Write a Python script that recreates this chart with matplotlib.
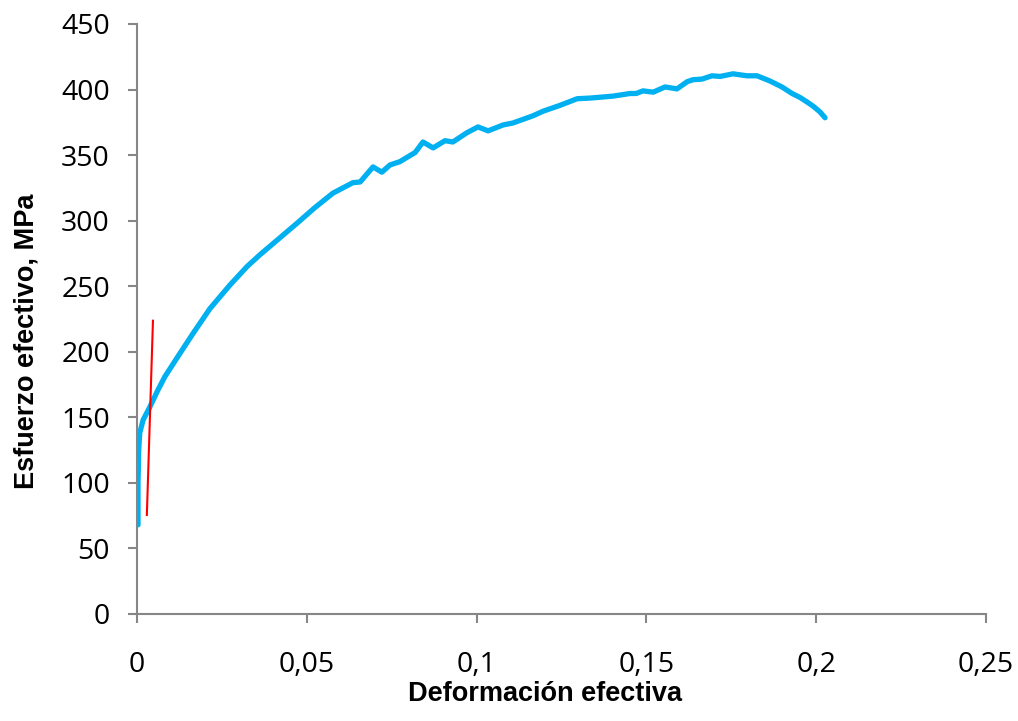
import matplotlib
matplotlib.use("Agg")
import matplotlib.pyplot as plt

# Data
strain = [0.0003, 0.0003, 0.0005, 0.0008, 0.0018, 0.0038, 0.0060, 0.0082, 0.0127,
          0.0165, 0.0215, 0.0274, 0.0324, 0.0362, 0.0412, 0.0471, 0.0524,
          0.0577, 0.0636, 0.0657, 0.0695,
          0.0721, 0.0745, 0.0774, 0.0819, 0.0842, 0.0872, 0.0907, 0.0930, 0.0971,
          0.1004, 0.1034, 0.1078, 0.1107, 0.1166, 0.1196, 0.1246, 0.1296, 0.1334,
          0.1402, 0.1452, 0.1470, 0.1490, 0.1520, 0.1555, 0.1590, 0.1620, 0.1637,
          0.1664, 0.1693, 0.1717, 0.1755, 0.1796, 0.1826, 0.1864, 0.1899, 0.1929,
          0.1952, 0.1976, 0.1990, 0.2011, 0.2026]
stress = [68, 100, 125, 138, 148, 158, 170, 181, 199,
          214, 233, 251, 265, 274, 285, 298, 310,
          321, 329, 329.5, 341,
          337, 342.5, 345, 352, 360, 355.5, 361, 360, 367,
          371.5, 368.5, 373, 374.5, 380, 383.5, 388, 393, 393.5,
          395, 397, 397, 399, 398, 402, 400.5, 406, 407.5,
          408, 410.5, 410, 412, 410.5, 410.5, 406.5, 402, 397,
          394, 390, 387.5, 383, 378.5]

elastic_strain = [0.0029, 0.0047]
elastic_stress = [75.5, 223.7]

x_ticks = [0, 0.05, 0.1, 0.15, 0.2, 0.25]
x_tick_labels = ["0", "0,05", "0,1", "0,15", "0,2", "0,25"]
y_ticks = [0, 50, 100, 150, 200, 250, 300, 350, 400, 450]

fig = plt.figure(figsize=(10.18, 7.21), dpi=100)
ax = fig.add_axes([137/1018, 1 - 614/721, (986-137)/1018, (614-24)/721])

ax.plot(strain, stress, color="#00B0F0", lw=3.8, solid_joinstyle="round",
        solid_capstyle="round")
ax.plot(elastic_strain, elastic_stress, color="#FF0000", lw=1.5)

ax.set_xlim(0, 0.25)
ax.set_ylim(0, 450)
ax.set_xticks(x_ticks)
ax.set_xticklabels(x_tick_labels)
ax.set_yticks(y_ticks)

grey = "#868686"
for s in ["top", "right"]:
    ax.spines[s].set_visible(False)
for s in ["left", "bottom"]:
    ax.spines[s].set_color(grey)
    ax.spines[s].set_linewidth(1.5)

ax.tick_params(axis="both", direction="out", length=6.5, width=1.5, color=grey,
               labelsize=20.5, labelcolor="black")
ax.tick_params(axis="y", pad=13)
ax.tick_params(axis="x", pad=20)
for lbl in ax.get_xticklabels() + ax.get_yticklabels():
    lbl.set_fontfamily(["Open Sans", "DejaVu Sans"])

ax.set_xlabel("Deformación efectiva", fontsize=19.5, fontweight="bold",
              fontfamily=["Liberation Sans", "DejaVu Sans"])
ax.set_ylabel("Esfuerzo efectivo, MPa", fontsize=19.5, fontweight="bold",
              fontfamily=["Liberation Sans", "DejaVu Sans"])
ax.xaxis.set_label_coords(0.4806, -0.1135)
ax.xaxis.label.set_va("top")
ax.yaxis.set_label_coords(-0.130, 0.462)
ax.yaxis.label.set_va("center")

fig.savefig("out.png", dpi=100)
